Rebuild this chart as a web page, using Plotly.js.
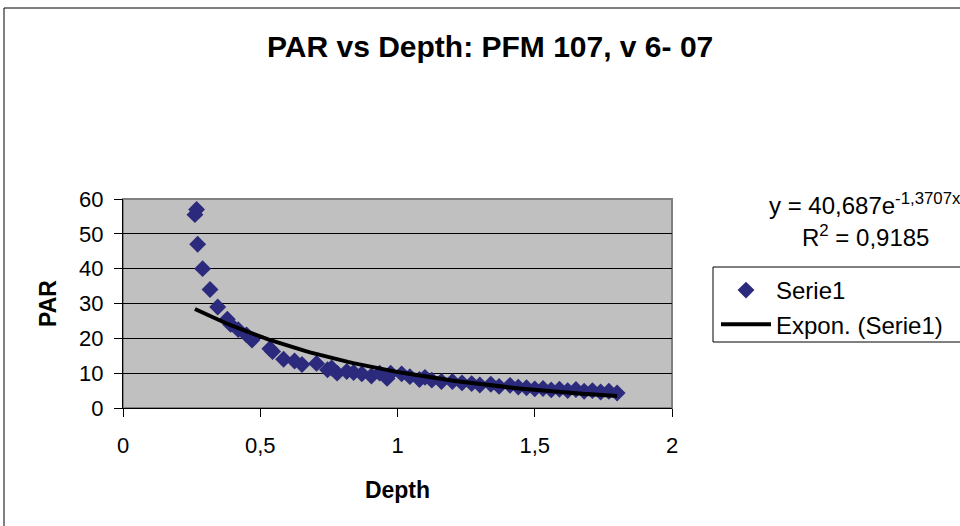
<!DOCTYPE html>
<html><head><meta charset="utf-8">
<script src="https://cdn.plot.ly/plotly-3.0.1.min.js"></script>
<style>html,body{margin:0;padding:0;background:#fff}#chart{width:960px;height:526px}</style>
</head><body><div id="chart"></div>
<script>
// Data
const depth = [0.262, 0.268, 0.272, 0.290, 0.317, 0.345, 0.380, 0.392, 0.420, 0.450, 0.470, 0.535, 0.545, 0.585, 0.625, 0.652, 0.705, 0.745, 0.760, 0.780, 0.815, 0.840, 0.870, 0.905, 0.935, 0.962, 0.975, 1.015, 1.045, 1.080, 1.100, 1.125, 1.160, 1.200, 1.235, 1.270, 1.300, 1.340, 1.370, 1.410, 1.440, 1.470, 1.500, 1.530, 1.560, 1.590, 1.620, 1.650, 1.680, 1.710, 1.740, 1.770, 1.800];
const par   = [55.5, 57.0, 47.0, 40.0, 34.0, 29.0, 25.5, 24.0, 22.5, 21.0, 19.5, 17.0, 16.2, 14.0, 13.5, 12.5, 12.8, 11.0, 11.5, 10.0, 10.5, 10.2, 9.8, 9.2, 10.0, 8.5, 10.0, 9.8, 9.0, 8.2, 8.8, 8.0, 7.6, 7.6, 7.2, 7.0, 6.6, 6.8, 6.2, 6.5, 6.0, 5.8, 5.5, 5.6, 5.2, 5.4, 5.0, 5.3, 4.8, 5.0, 4.6, 4.8, 4.3];
// Exponential trendline as given in the chart: y = 40,687 e^(-1,3707 x)
const trendA = 40.687;
const trendB = -1.3707;
const xTicks = [0, 0.5, 1, 1.5, 2];
const xTickText = ["0", "0,5", "1", "1,5", "2"];
const yTicks = [0, 10, 20, 30, 40, 50, 60];
const yTickText = ["0", "10", "20", "30", "40", "50", "60"];

const xMin = Math.min(...depth), xMax = Math.max(...depth);
const trendX = [], trendY = [];
for (let i = 0; i <= 80; i++) {
  const x = xMin + (xMax - xMin) * i / 80;
  trendX.push(x);
  trendY.push(trendA * Math.exp(trendB * x));
}

const F = '"Liberation Sans", Arial, sans-serif';

const traces = [
  {x: depth, y: par, type: 'scatter', mode: 'markers', name: 'Serie1', legendgroup: 'a',
   marker: {symbol: 'diamond', size: 13, color: '#2B2A7C', line: {width: 0}}},
  {x: trendX, y: trendY, type: 'scatter', mode: 'lines', name: 'Expon. (Serie1)', legendgroup: 'b',
   line: {color: '#000', width: 4}}
];

const W = 549, H = 209; // plot area size in px
const px = v => (v - 123) / W;
const py = v => (408 - v) / H;

const layout = {
  width: 960, height: 526,
  margin: {l: 123, r: 288, t: 199, b: 118},
  paper_bgcolor: '#fff', plot_bgcolor: '#C0C0C0',
  font: {family: F, size: 22, color: '#000'},
  showlegend: true,
  legend: {x: px(716), y: py(268), xanchor: 'left', yanchor: 'top', bgcolor: 'rgba(0,0,0,0)',
           borderwidth: 0, font: {family: F, size: 24, color: '#000'}, itemwidth: 50, tracegroupgap: 0},
  xaxis: {range: [0, 2], tickvals: xTicks, ticktext: xTickText, showgrid: false, zeroline: false,
          showline: true, linecolor: '#000', linewidth: 1, ticks: 'outside', ticklen: 8, tickcolor: '#000',
          ticklabelstandoff: 10, tickfont: {family: F, size: 22},
          title: {text: '<b>Depth</b>', font: {family: F, size: 23}, standoff: 24}},
  yaxis: {range: [0, 60], tickvals: yTicks, ticktext: yTickText, showgrid: true, gridcolor: '#000', gridwidth: 1,
          zeroline: false, showline: true, linecolor: '#000', linewidth: 1, ticks: 'outside', ticklen: 8,
          tickcolor: '#000', ticklabelstandoff: 6, tickfont: {family: F, size: 22},
          title: {text: '<b>PAR</b>', font: {family: F, size: 23}, standoff: 16}},
  shapes: [
    {type: 'rect', xref: 'paper', yref: 'paper', x0: 0, x1: 1, y0: 0, y1: 1,
     line: {color: '#808080', width: 2}, fillcolor: 'rgba(0,0,0,0)', layer: 'below'},
    {type: 'rect', xref: 'paper', yref: 'paper', x0: px(4), x1: px(1000), y0: py(560), y1: py(8),
     line: {color: '#000', width: 1}, fillcolor: 'rgba(0,0,0,0)'},
    {type: 'rect', xref: 'paper', yref: 'paper', x0: px(713), x1: px(1000), y0: py(342), y1: py(267),
     line: {color: '#000', width: 1}, fillcolor: 'rgba(0,0,0,0)'}
  ],
  annotations: [
    {text: '<b>PAR vs Depth: PFM 107, v 6- 07</b>', xref: 'paper', yref: 'paper', x: px(490), y: py(46),
     xanchor: 'center', yanchor: 'middle', showarrow: false, font: {family: F, size: 30, color: '#000'}},
    {text: 'y = 40,687e<sup>-1,3707x</sup>', xref: 'paper', yref: 'paper', x: px(767), y: py(204),
     xanchor: 'left', yanchor: 'middle', showarrow: false, font: {family: F, size: 24, color: '#000'}},
    {text: 'R<sup>2</sup> = 0,9185', xref: 'paper', yref: 'paper', x: px(800), y: py(236),
     xanchor: 'left', yanchor: 'middle', showarrow: false, font: {family: F, size: 24, color: '#000'}}
  ]
};

Plotly.newPlot('chart', traces, layout, {displayModeBar: false, staticPlot: true});
</script>
</body></html>
